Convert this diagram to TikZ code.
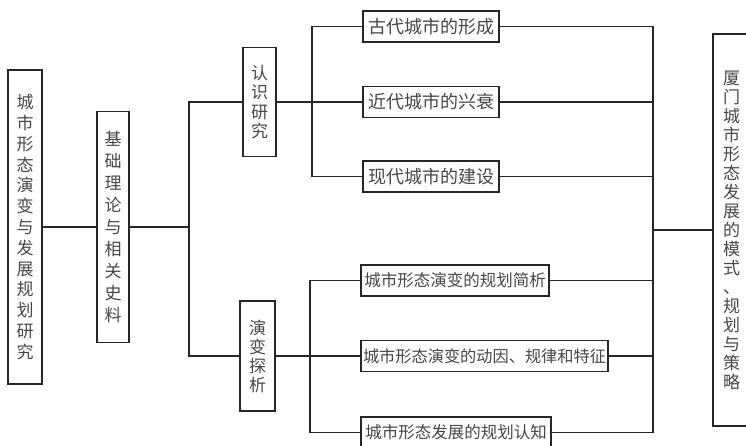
\documentclass[tikz,border=0pt]{standalone}
\usepackage{fontspec}
\newfontfamily\cjk{Noto Sans CJK SC}
\begin{document}
\begin{tikzpicture}[x=1pt,y=-1pt,
  box/.style={draw=black!85, line width=1.1pt, inner sep=0pt, anchor=center, text=black!72, font=\cjk},
  hbox/.style={box, minimum height=31pt},
  vbox/.style={box, align=center},
  conn/.style={draw=black!85, line width=1.1pt}]
\path[use as bounding box, clip] (0,0) rectangle (746,446);
\fill[white] (0,0) rectangle (746,446);

% vertical boxes
\node[vbox, minimum width=34pt, minimum height=314pt, font=\cjk\fontsize{17}{20.8}\selectfont] (A) at (25,227)
  {城\\市\\形\\态\\演\\变\\与\\发\\展\\规\\划\\研\\究};
\node[vbox, minimum width=32pt, minimum height=231pt, font=\cjk\fontsize{17}{22}\selectfont] (B) at (113,227)
  {基\\础\\理\\论\\与\\相\\关\\史\\料};
\node[vbox, minimum width=33pt, minimum height=109pt, font=\cjk\fontsize{17}{19.5}\selectfont] (C) at (259.5,102)
  {认\\识\\研\\究};
\node[vbox, minimum width=35pt, minimum height=110pt, font=\cjk\fontsize{17}{19}\selectfont] (D) at (257.5,356)
  {演\\变\\探\\析};
\node[vbox, minimum width=37pt, minimum height=392pt, font=\cjk\fontsize{17}{19}\selectfont] (E) at (731.5,230)
  {厦\\门\\城\\市\\形\\态\\发\\展\\的\\模\\式\\、\\规\\划\\与\\策\\略};

% horizontal boxes
\node[hbox, minimum width=136pt, font=\cjk\fontsize{18}{20}\selectfont] (C1) at (431,26.5) {古代城市的形成};
\node[hbox, minimum width=136pt, font=\cjk\fontsize{18}{20}\selectfont] (C2) at (431,102) {近代城市的兴衰};
\node[hbox, minimum width=136pt, font=\cjk\fontsize{18}{20}\selectfont] (C3) at (431,176.5) {现代城市的建设};
\node[hbox, minimum width=188pt, font=\cjk\fontsize{16.5}{20}\selectfont] (D1) at (455,280.5) {城市形态演变的规划简析};
\node[hbox, minimum width=247pt, font=\cjk\fontsize{16.2}{20}\selectfont] (D2) at (484.5,356) {城市形态演变的动因、规律和特征};
\node[hbox, minimum width=190pt, font=\cjk\fontsize{16.5}{20}\selectfont] (D3) at (456,432.5) {城市形态发展的规划认知};

% junctions
\coordinate (j1) at (189,227);
\coordinate (j2) at (312,102);
\coordinate (j3) at (310,356);
\coordinate (j4) at (653,230);

% connectors
\draw[conn] (A.east) -- (B.west);
\draw[conn] (B.east) -- (j1);
\draw[conn] (C.west) -| (j1) |- (D.west);
\draw[conn] (C.east) -- (C2.west);
\draw[conn] (C1.west) -| (j2) |- (C3.west);
\draw[conn] (D.east) -- (D2.west);
\draw[conn] (D1.west) -| (j3) |- (D3.west);
\draw[conn] (C1.east) -| (j4) |- (D3.east);
\draw[conn] (C2.east) -- (C2.east -| j4);
\draw[conn] (C3.east) -- (C3.east -| j4);
\draw[conn] (D1.east) -- (D1.east -| j4);
\draw[conn] (D2.east) -- (D2.east -| j4);
\draw[conn] (j4) -- (E.west);
\end{tikzpicture}
\end{document}
